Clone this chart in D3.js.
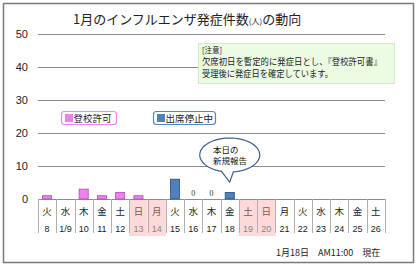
<!DOCTYPE html>
<html><head><meta charset="utf-8">
<script src="https://cdn.jsdelivr.net/npm/d3@7"></script>
<style>
html,body{margin:0;padding:0;background:#fff;}
svg{display:block;font-family:"Noto Sans CJK JP","Noto Sans",sans-serif;}
</style></head>
<body><svg id="c" width="420" height="267"></svg>
<script>
const dates = ["8","1/9","10","11","12","13","14","15","16","17","18","19","20","21","22","23","24","25","26"];
const weekdays = ["火","水","木","金","土","日","月","火","水","木","金","土","日","月","火","水","木","金","土"];
const permitted = [1,null,3,1,2,1,null,null,null,null,null,null,null,null,null,null,null,null,null];
const stopped = [null,null,null,null,null,null,null,6,0,0,2,null,null,null,null,null,null,null,null];
const holidays = ["13","14","19","20"];
const yTicks = [0,10,20,30,40,50];
const seriesNames = ["登校許可","出席停止中"];
const pink = "#f07ff0", pinkStroke = "#b050b0", blue = "#4f81bd", blueStroke = "#2c4d75";

const svg = d3.select("#c");
// outer frame
svg.append("rect").attr("x",3.5).attr("y",3.5).attr("width",410).attr("height",259)
  .attr("fill","#fff").attr("stroke","#7a7a7a").attr("stroke-width",1.5);

const x = d3.scaleBand().domain(dates).range([38,385]).padding(0);
const y = d3.scaleLinear().domain([0,50]).range([199,34]);

// title
const t = svg.append("text").attr("x",73).attr("y",24).attr("font-size",13).attr("fill","#222");
t.append("tspan").text("1月のインフルエンザ発症件数");
t.append("tspan").attr("font-size",8).text("(人)");
t.append("tspan").text("の動向");

// holiday background columns
svg.selectAll("rect.hol").data(holidays).join("rect").attr("class","hol")
  .attr("x",d=>x(d)).attr("y",y(0)).attr("width",x.bandwidth()).attr("height",37)
  .attr("fill","#fdd9d9");

// gridlines
svg.selectAll("line.grid").data(yTicks).join("line").attr("class","grid")
  .attr("x1",38).attr("x2",385).attr("y1",d=>Math.round(y(d))+0.5).attr("y2",d=>Math.round(y(d))+0.5)
  .attr("stroke","#8c8c8c").attr("stroke-width",1);
// y labels
svg.selectAll("text.yl").data(yTicks).join("text").attr("class","yl")
  .attr("x",28).attr("y",d=>y(d)+4).attr("text-anchor","end").attr("font-size",11)
  .attr("font-family","Liberation Sans, Arial, sans-serif").attr("fill","#222").text(d=>d);

// column separators
const seps = dates.map(d=>x(d)).concat([x(dates[dates.length-1])+x.bandwidth()]);
svg.selectAll("line.sep").data(seps).join("line").attr("class","sep")
  .attr("x1",d=>Math.round(d)+0.5).attr("x2",d=>Math.round(d)+0.5).attr("y1",y(0)).attr("y2",233)
  .attr("stroke","#b0b0b0").attr("stroke-width",1);

// category labels
svg.selectAll("text.wd").data(weekdays).join("text").attr("class","wd")
  .attr("x",(d,i)=>x(dates[i])+x.bandwidth()/2).attr("y",215).attr("text-anchor","middle")
  .attr("font-size",9.5).attr("fill",(d,i)=>holidays.includes(dates[i])?"#7a5a5a":"#222").text(d=>d);
svg.selectAll("text.dt").data(dates).join("text").attr("class","dt")
  .attr("x",d=>x(d)+x.bandwidth()/2).attr("y",231.5).attr("text-anchor","middle")
  .attr("font-size",9).attr("font-family","Liberation Sans, Arial, sans-serif")
  .attr("fill",d=>holidays.includes(d)?"#888":"#222").text(d=>d);

// bars
const bw = x.bandwidth()*0.5;
function drawSeries(vals, fill, stroke, cls){
  const data = vals.map((v,i)=>({v,d:dates[i]})).filter(o=>o.v!==null);
  svg.selectAll("rect."+cls).data(data.filter(o=>o.v>0)).join("rect").attr("class",cls)
    .attr("x",o=>x(o.d)+(x.bandwidth()-bw)/2).attr("y",o=>y(o.v)).attr("width",bw).attr("height",o=>y(0)-y(o.v))
    .attr("fill",fill).attr("stroke",stroke).attr("stroke-width",0.8);
  svg.selectAll("text."+cls+"z").data(data.filter(o=>o.v===0)).join("text").attr("class",cls+"z")
    .attr("x",o=>x(o.d)+x.bandwidth()/2).attr("y",y(0)-3).attr("text-anchor","middle")
    .attr("font-size",8).attr("font-family","Liberation Serif, serif").attr("fill","#333").text(o=>o.v);
}
drawSeries(permitted, pink, pinkStroke, "bp");
drawSeries(stopped, blue, blueStroke, "bs");

// note box
svg.append("rect").attr("x",198.5).attr("y",43.5).attr("width",196).attr("height",40)
  .attr("fill","#ebfce3").attr("stroke","#d3ebc5");
svg.append("text").attr("x",202).attr("y",53).attr("font-size",7.5).attr("fill","#222").text("[注意]");
svg.append("text").attr("x",202).attr("y",65).attr("font-size",9).attr("fill","#222")
  .attr("textLength",180).attr("lengthAdjust","spacingAndGlyphs").text("欠席初日を暫定的に発症日とし、『登校許可書』");
svg.append("text").attr("x",202).attr("y",77).attr("font-size",9).attr("fill","#222")
  .attr("textLength",131).attr("lengthAdjust","spacingAndGlyphs").text("受理後に発症日を確定しています。");

// legends
const legends = [{name:seriesNames[0],x:61,w:55,c:pink,b:"#ee88ee"},{name:seriesNames[1],x:153,w:62,c:blue,b:"#5a86c0"}];
legends.forEach(l=>{
  svg.append("rect").attr("x",l.x+0.5).attr("y",111.5).attr("width",l.w).attr("height",13).attr("rx",3)
    .attr("fill","#fff").attr("stroke",l.b).attr("stroke-width",1.2);
  svg.append("rect").attr("x",l.x+4).attr("y",114).attr("width",8).attr("height",8).attr("fill",l.c);
  svg.append("text").attr("x",l.x+12.5).attr("y",121.5).attr("font-size",9.5).attr("fill","#222").text(l.name);
});

// callout
const cx = x("18")+x.bandwidth()/2;
const ell = d3.path();
svg.append("path")
  .attr("d",(()=>{
    const rx=30, ry=17, ccx=cx, ccy=155;
    const a1 = Math.PI/2+0.28, a2 = Math.PI/2-0.12;
    const p = d3.path();
    p.moveTo(ccx+rx*Math.cos(a2), ccy+ry*Math.sin(a2));
    // go around the ellipse the long way
    const n=60;
    for(let i=1;i<=n;i++){
      const a = a2 - (2*Math.PI-(a1-a2))*i/n;
      p.lineTo(ccx+rx*Math.cos(a), ccy+ry*Math.sin(a));
    }
    p.lineTo(ccx, 182);
    p.closePath();
    return p.toString();
  })())
  .attr("fill","#fff").attr("stroke","#3d5f8f").attr("stroke-width",1.2);
svg.append("text").attr("x",213).attr("y",153).attr("font-size",8.5).attr("fill","#111").text("本日の");
svg.append("text").attr("x",213).attr("y",164).attr("font-size",8.5).attr("fill","#111").text("新規報告");

// footer
svg.append("text").attr("x",276).attr("y",256).attr("font-size",9).attr("fill","#222")
  .attr("xml:space","preserve").text("1月18日　AM11:00　現在");
</script></body></html>
